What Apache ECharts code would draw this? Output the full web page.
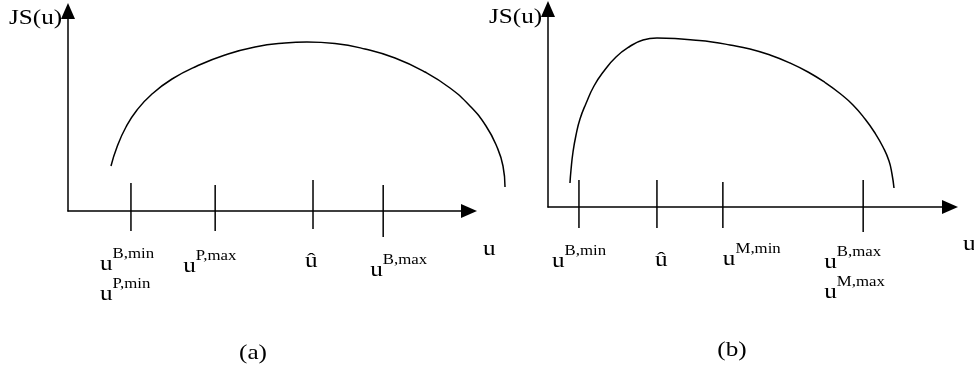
<!DOCTYPE html>
<html><head><meta charset="utf-8">
<script src="https://cdn.jsdelivr.net/npm/echarts@6/dist/echarts.min.js"></script>
<style>html,body{margin:0;padding:0;background:#fff}#c{width:974px;height:369px}</style>
</head><body><div id="c"></div>
<script>
// ---------- data (arbitrary units: u along x, JS(u) along y; visible axes span 0..100) ----------
// Panel (a)
const curveA_u  = [10.72, 12.22, 14.46, 17.21, 20.95, 25.94, 32.17, 39.15, 46.63, 54.11, 59.6, 66.58, 74.06, 81.55, 89.03, 95.26, 100.25, 104.24, 106.98, 108.48, 108.98];
const curveA_js = [22.5, 32.0, 42.0, 50.5, 58.5, 66.0, 72.5, 78.0, 82.0, 84.0, 84.5, 83.75, 81.0, 76.5, 69.5, 61.5, 52.5, 42.5, 32.0, 22.5, 12.0];
const ticksA = [15.7, 36.7, 61.1, 78.6];
const tickLabelsA = [['u^B,min', 'u^P,min'], ['u^P,max'], ['û'], ['u^B,max']];
// Panel (b)
const curveB_u  = [5.47, 5.72, 6.22, 6.97, 7.96, 9.45, 11.44, 13.93, 16.92, 20.15, 23.63, 27.11, 31.59, 36.07, 40.8, 45.27, 50.25, 55.22, 60.2, 64.68, 68.91, 72.64, 75.87, 78.86, 81.34, 83.33, 84.83, 85.57, 86.07];
const curveB_js = [12.12, 18.69, 27.78, 36.36, 44.44, 52.27, 61.11, 68.69, 75.76, 80.81, 84.34, 85.35, 85.1, 84.34, 83.33, 81.82, 79.8, 76.77, 72.73, 68.18, 62.88, 57.32, 51.52, 44.44, 37.37, 30.3, 23.23, 16.67, 9.6];
const ticksB = [7.7, 27.1, 43.5, 78.4];
const tickLabelsB = [['u^B,min'], ['û'], ['u^M,min'], ['u^B,max', 'u^M,max']];
const yAxisTitle = 'JS(u)';
const xAxisTitle = 'u';
const panelCaptions = ['(a)', '(b)'];

// ---------- styles (pixels) ----------
const FONT = '"Liberation Serif", "Times New Roman", serif';
const SX = 1.2;            // horizontal stretch of the original figure's text
const BASE = 21, SUP = 14;
const mid = (baseline, size) => baseline - 0.27 * size;
const tickStyleA = { up: [28, 26, 31, 26], down: [20, 20, 18, 26], dx: [-31, -32, -8, -13], dy: [59, 61, 56, 65] };
const tickStyleB = { up: [27, 27, 25, 27], down: [21, 21, 21, 25], dx: [-27, -2, 0, -39], dy: [60, 59, 58, 61] };

function textEl(txt, x, baseline, size, align) {
  return {
    type: 'text', x: x, y: mid(baseline, size), scaleX: SX,
    style: { text: txt, x: 0, y: 0, fill: '#000', fontSize: size, fontFamily: FONT, align: align || 'left', verticalAlign: 'middle' }
  };
}

function tickSeries(ticks, labels, st, idx) {
  return {
    type: 'custom', xAxisIndex: idx, yAxisIndex: idx, clip: false, silent: true,
    data: ticks.map(t => [t, 0]),
    renderItem: function (params, api) {
      const i = params.dataIndex;
      const p = api.coord([api.value(0), 0]);
      const children = [{
        type: 'line',
        shape: { x1: p[0], y1: p[1] - st.up[i], x2: p[0], y2: p[1] + st.down[i] },
        style: { stroke: '#000', lineWidth: 1.5 }
      }];
      labels[i].forEach((ln, k) => {
        const parts = ln.split('^');
        const left = p[0] + st.dx[i];
        const bl = p[1] + st.dy[i] + k * 30;
        children.push(textEl(parts[0], left, bl, BASE));
        if (parts[1]) children.push(textEl(parts[1], left + 0.5 * BASE * SX, bl - 12, SUP));
      });
      return { type: 'group', children: children };
    }
  };
}

function axisLine() {
  return { show: true, onZero: false, symbol: ['none', 'triangle'], symbolSize: [14, 16], lineStyle: { color: '#000', width: 1.5 } };
}
function mkAxis(idx) {
  return { type: 'value', gridIndex: idx, min: 0, max: 100, axisLine: axisLine(), axisTick: { show: false }, axisLabel: { show: false }, splitLine: { show: false } };
}
function hiddenAxis(idx, max) {
  return { type: 'value', gridIndex: idx, min: 0, max: max, show: false };
}
function curve(us, js, idx) {
  return {
    type: 'line', xAxisIndex: idx, yAxisIndex: idx, data: us.map((u, i) => [u, js[i]]),
    smooth: 0.5, showSymbol: false, clip: false, silent: true,
    lineStyle: { color: '#000', width: 1.5 }
  };
}

const chart = echarts.init(document.getElementById('c'), null, { renderer: 'canvas' });
chart.setOption({
  animation: false,
  backgroundColor: '#fff',
  grid: [
    { left: 68, top: 11, width: 401, height: 200, outerBoundsMode: 'none' },
    { left: 548, top: 9, width: 402, height: 198, outerBoundsMode: 'none' },
    // same scale as grid 0 but wider, so curve (a) can run past the arrow of its u-axis
    { left: 68, top: 11, width: 401 * 1.2, height: 200, outerBoundsMode: 'none' }
  ],
  xAxis: [mkAxis(0), mkAxis(1), hiddenAxis(2, 120)],
  yAxis: [mkAxis(0), mkAxis(1), hiddenAxis(2, 100)],
  series: [
    curve(curveA_u, curveA_js, 2),
    curve(curveB_u, curveB_js, 1),
    tickSeries(ticksA, tickLabelsA, tickStyleA, 0),
    tickSeries(ticksB, tickLabelsB, tickStyleB, 1)
  ],
  graphic: [
    textEl(yAxisTitle, 9, 24, BASE),
    textEl(yAxisTitle, 489, 23, BASE),
    textEl(xAxisTitle, 483, 255, BASE),
    textEl(xAxisTitle, 963, 250, BASE),
    textEl(panelCaptions[0], 253, 359, BASE, 'center'),
    textEl(panelCaptions[1], 732, 356, BASE, 'center')
  ]
});
</script>
</body></html>
